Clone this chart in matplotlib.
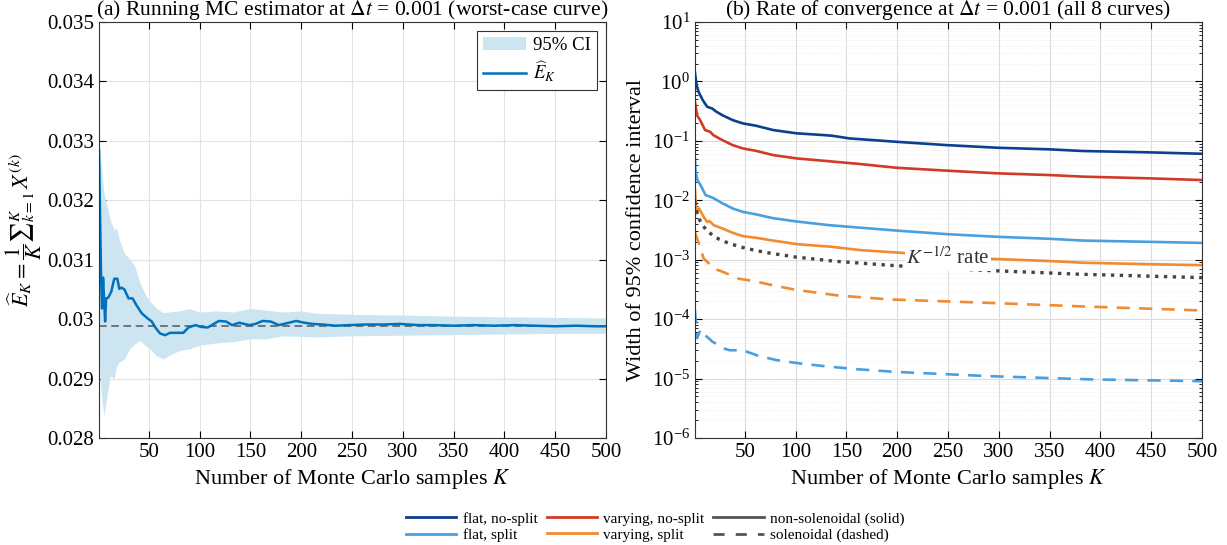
import matplotlib
matplotlib.use("Agg")
import matplotlib.pyplot as plt
from matplotlib.lines import Line2D
import numpy as np

plt.rcParams['font.family'] = ['Liberation Serif', 'DejaVu Serif']
plt.rcParams['mathtext.fontset'] = 'stix'
plt.rcParams['font.size'] = 15

# running estimator (worst-case curve)
est_k = [1, 3, 4, 5, 7, 8, 10, 13, 16, 19, 21, 23, 26, 30, 34, 38, 43, 49, 53, 56, 61, 66,
         71, 78, 84, 89, 96, 101, 108, 112, 119, 126, 132, 139, 149, 155, 162, 170, 178,
         188, 195, 203, 211, 221, 234, 247, 264, 280, 297, 315, 330, 350, 370, 390, 410,
         430, 450, 470, 490, 500]
est_val = [0.03284, 0.03073, 0.03018, 0.0307, 0.02996, 0.03035, 0.03036, 0.03046, 0.03068,
           0.03068, 0.03051, 0.03053, 0.0305, 0.03035, 0.03035, 0.03023, 0.0301, 0.03001,
           0.02996, 0.02987, 0.02976, 0.02973, 0.02977, 0.02977, 0.02977, 0.02986, 0.0299,
           0.02987, 0.02986, 0.0299, 0.02997, 0.02996, 0.0299, 0.02994, 0.0299, 0.02992,
           0.02997, 0.02996, 0.0299, 0.02994, 0.02997, 0.02994, 0.02992, 0.02991, 0.02989,
           0.0299, 0.02991, 0.02991, 0.02992, 0.0299, 0.0299, 0.02989, 0.0299, 0.02989,
           0.0299, 0.02989, 0.02988, 0.02989, 0.02988, 0.02988]
e_ref = 0.02988

# 95% confidence band
band_k = [1, 2, 4, 6, 9, 12, 16, 18, 21, 26, 31, 36, 41, 47, 51, 57, 64, 70, 80, 90, 100,
          116, 133, 150, 166, 182, 199, 215, 250, 300, 350, 400, 450, 500]
band_hi = [0.0331, 0.0328, 0.03245, 0.0321, 0.0319, 0.03167, 0.0315, 0.03154, 0.03134,
           0.0311, 0.03102, 0.0309, 0.03062, 0.0304, 0.0303, 0.03019, 0.03011, 0.03012,
           0.03014, 0.03018, 0.03012, 0.03014, 0.03012, 0.03018, 0.03015, 0.03012, 0.03014,
           0.0301, 0.03008, 0.03007, 0.03005, 0.03004, 0.03003, 0.03002]
band_lo = [0.0296, 0.0290, 0.0286, 0.02838, 0.02872, 0.02905, 0.0290, 0.0292, 0.02928,
           0.02933, 0.0295, 0.02958, 0.02964, 0.02955, 0.0295, 0.02939, 0.02933, 0.02939,
           0.02947, 0.0295, 0.02956, 0.0296, 0.02962, 0.02967, 0.02967, 0.02972, 0.02971,
           0.0297, 0.02972, 0.02973, 0.02974, 0.02975, 0.02976, 0.02976]

# CI widths, all 8 curves
flat_ns_k = [1, 2.5, 4.5, 8.5, 13, 18, 22, 28, 38, 48, 61, 78, 101, 128, 136, 153, 199, 248,
             299, 350, 383, 449, 500]
flat_ns = [1.4, 0.87, 0.67, 0.49, 0.375, 0.35, 0.31, 0.27, 0.224, 0.197, 0.18, 0.152, 0.134,
           0.125, 0.122, 0.11, 0.0966, 0.085, 0.0766, 0.072, 0.0675, 0.064, 0.0607]
vary_ns_k = [1, 3, 6, 11, 16, 19, 28, 38, 48, 61, 78, 101, 128, 164, 199, 248, 299, 350,
             383, 449, 500]
vary_ns = [0.456, 0.27, 0.224, 0.152, 0.142, 0.125, 0.103, 0.085, 0.0747, 0.068, 0.0576,
           0.0507, 0.0462, 0.0407, 0.0353, 0.0316, 0.0284, 0.0266, 0.025, 0.0234, 0.0219]
flat_s_k = [1, 1.5, 3.3, 6.5, 11.5, 14.6, 19.6, 28, 38, 48, 61, 78, 101, 134, 153, 199, 248,
            299, 350, 383, 449, 500]
flat_s = [0.05, 0.032, 0.022, 0.018, 0.0122, 0.0117, 0.0108, 0.0089, 0.0073, 0.0064, 0.0058,
          0.005, 0.0044, 0.0038, 0.00358, 0.0031, 0.0027, 0.00243, 0.00225, 0.0021, 0.002,
          0.00192]
vary_s_k = [1, 2.5, 5, 9.5, 13, 15, 19.6, 28, 38, 48, 61, 78, 101, 134, 164, 212, 284, 350,
            383, 449, 500]
vary_s = [0.015, 0.006, 0.0073, 0.0053, 0.0043, 0.0045, 0.0038, 0.00336, 0.00284, 0.0025,
          0.00234, 0.0021, 0.00183, 0.00166, 0.00145, 0.00128, 0.00105, 0.00095, 0.00089,
          0.00084, 0.00081]
flat_sol_k = [1, 3, 6.5, 9.5, 18, 30, 35, 48, 64, 81, 104, 128, 160, 197, 290, 390, 490, 500]
flat_sol = [1.4e-4, 4.8e-5, 6.7e-5, 5.7e-5, 4.2e-5, 3.2e-5, 3.0e-5, 3.0e-5, 2.4e-5, 2.05e-5,
            1.8e-5, 1.62e-5, 1.44e-5, 1.3e-5, 1.1e-5, 9.7e-6, 9.1e-6, 9.0e-6]
vary_sol_k = [1, 6.5, 9.5, 14.6, 19.6, 28, 44, 61, 78, 101, 142, 192, 290, 390, 500]
vary_sol = [0.0029, 0.00155, 0.00105, 0.00087, 0.00071, 0.00063, 0.00048, 0.00043, 0.00037,
            0.00031, 0.00025, 0.000215, 0.000188, 0.000162, 0.00014]
rate_k = [1, 2, 3, 5, 8, 12, 18, 25, 35, 50, 70, 100, 140, 200, 280, 380, 500]
rate = [0.0095, 0.0072, 0.0062, 0.0049, 0.0039, 0.0032, 0.0026, 0.0022, 0.00187, 0.00157,
        0.00133, 0.00111, 0.00094, 0.00079, 0.00067, 0.00057, 0.0005]

c_flat_ns = '#0b3f8f'
c_vary_ns = '#d13b26'
c_flat_s = '#4a9fde'
c_vary_s = '#f28a30'
c_grey = '#555555'

fig = plt.figure(figsize=(12.27, 5.45), dpi=100)
ax1 = fig.add_axes([0.0807, 0.1963, 0.4132, 0.7633])
ax2 = fig.add_axes([0.5664, 0.1963, 0.4132, 0.7633])

# left panel: running estimator
ax1.fill_between(band_k, band_lo, band_hi, color='#cde5f1', lw=0, label='95% CI')
ax1.axhline(e_ref, color=c_grey, ls='--', lw=1.1, dashes=(5, 3))
ax1.plot(est_k, est_val, color='#0072bd', lw=1.8, label=r'$\widehat{E}_K$')
ax1.set_xlim(1, 500)
ax1.set_ylim(0.028, 0.035)
ax1.set_xticks(np.arange(50, 501, 50))
ax1.set_yticks([0.028, 0.029, 0.030, 0.031, 0.032, 0.033, 0.034, 0.035])
ax1.set_yticklabels(['0.028', '0.029', '0.03', '0.031', '0.032', '0.033', '0.034', '0.035'])
ax1.grid(True, color='#e3e3e3', lw=0.8)
ax1.set_axisbelow(True)
ax1.set_xlabel(r'Number of Monte Carlo samples $K$', fontsize=16, labelpad=4)
ax1.set_ylabel(r'$\widehat{E}_K = \dfrac{1}{K}{\sum}_{k=1}^{K}\, X^{(k)}$', fontsize=16, labelpad=2)
ax1.set_title(r'(a) Running MC estimator at $\Delta t$ = 0.001 (worst-case curve)', fontsize=15.5, pad=4)
leg1 = ax1.legend(loc='upper right', fancybox=False, edgecolor='#333333', framealpha=1,
                  handlelength=2.3, borderaxespad=0.5, fontsize=13.5, borderpad=0.3,
                  labelspacing=0.3, handletextpad=0.4)
leg1.get_frame().set_linewidth(0.8)

# right panel: CI widths on log scale
ax2.semilogy(flat_ns_k, flat_ns, color=c_flat_ns, lw=1.9)
ax2.semilogy(vary_ns_k, vary_ns, color=c_vary_ns, lw=1.9)
ax2.semilogy(flat_s_k, flat_s, color=c_flat_s, lw=1.9)
ax2.semilogy(vary_s_k, vary_s, color=c_vary_s, lw=1.9)
ax2.semilogy(vary_sol_k, vary_sol, color=c_vary_s, lw=1.9, ls='--', dashes=(5, 3.5))
ax2.semilogy(flat_sol_k, flat_sol, color=c_flat_s, lw=1.9, ls='--', dashes=(5, 3.5))
ax2.semilogy(rate_k, rate, color='#444444', lw=2.4, ls=':')
ax2.text(250, 0.00105, r'$K^{-1/2}$ rate', fontsize=15, color='#333333', ha='center', va='center',
         bbox=dict(facecolor='white', edgecolor='none', pad=1))
ax2.set_xlim(1, 500)
ax2.set_ylim(1e-6, 10)
ax2.set_xticks(np.arange(50, 501, 50))
ax2.grid(True, which='major', color='#dcdcdc', lw=0.8)
ax2.grid(True, which='minor', axis='y', color='#ececec', lw=0.6, ls=':')
ax2.set_axisbelow(True)
ax2.set_xlabel(r'Number of Monte Carlo samples $K$', fontsize=16, labelpad=4)
ax2.set_ylabel('Width of 95% confidence interval', fontsize=16, labelpad=4)
ax2.set_title(r'(b) Rate of convergence at $\Delta t$ = 0.001 (all 8 curves)', fontsize=15.5, pad=4)

for ax in (ax1, ax2):
    ax.tick_params(which='both', direction='in', top=True, right=True, labelsize=15)
    ax.tick_params(which='major', length=5)
    ax.tick_params(which='minor', length=2.5)
    for s in ax.spines.values():
        s.set_color('#333333')
        s.set_linewidth(0.8)

handles = [
    Line2D([], [], color=c_flat_ns, lw=2),
    Line2D([], [], color=c_flat_s, lw=2),
    Line2D([], [], color=c_vary_ns, lw=2),
    Line2D([], [], color=c_vary_s, lw=2),
    Line2D([], [], color=c_grey, lw=2),
    Line2D([], [], color=c_grey, lw=2, ls='--', dashes=(4, 4)),
]
labels = ['flat, no-split', 'flat, split', 'varying, no-split', 'varying, split',
          'non-solenoidal (solid)', 'solenoidal (dashed)']
fig.legend(handles, labels, loc='lower center', bbox_to_anchor=(0.534, -0.02), ncol=3,
           frameon=False, fontsize=11, handlelength=3.3, columnspacing=0.6,
           labelspacing=0.15, handletextpad=0.4)

fig.savefig('out.png', dpi=100)
